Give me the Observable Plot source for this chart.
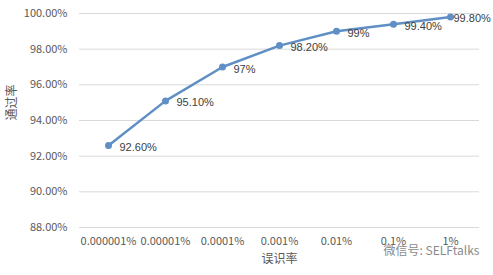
<!DOCTYPE html>
<html>
<head>
<meta charset="utf-8">
<script src="https://cdn.jsdelivr.net/npm/d3@7"></script>
<script src="https://cdn.jsdelivr.net/npm/@observablehq/plot@0.6"></script>
<style>
  html, body { margin: 0; padding: 0; background: #fff; }
  #chart svg { display: block; overflow: visible; }
</style>
</head>
<body>
<div id="chart"></div>
<script>
// False acceptance rate (categories) vs. pass rate (%)
const errorRates = ["0.000001%", "0.00001%", "0.0001%", "0.001%", "0.01%", "0.1%", "1%"];
const passRates = [92.6, 95.1, 97, 98.2, 99, 99.4, 99.8];
const valueLabels = ["92.60%", "95.10%", "97%", "98.20%", "99%", "99.40%", "99.80%"];
const yTicks = [88, 90, 92, 94, 96, 98, 100];
const xTitle = "误识率";
const yTitle = "通过率";
const watermark = "微信号: SELFtalks";

const data = errorRates.map((r, i) => ({rate: r, pass: passRates[i], label: valueLabels[i]}));

const font = "'Noto Sans CJK SC', 'Liberation Sans', sans-serif";
const numFont = "'Liberation Sans', 'Noto Sans CJK SC', sans-serif";
const lineColor = "#5f8fc4";

const chart = Plot.plot({
  width: 493,
  height: 275,
  marginTop: 13,
  marginBottom: 48,
  marginLeft: 79,
  marginRight: 14,
  style: {fontFamily: font, fontSize: "11px", color: "#595959", background: "#fff"},
  x: {type: "point", domain: errorRates, padding: 0.5, label: null},
  y: {domain: [88, 100], ticks: yTicks, label: null},
  marks: [
    Plot.gridY(yTicks, {stroke: "#d9d9d9", strokeOpacity: 1, strokeWidth: 1}),
    Plot.axisY(yTicks, {tickSize: 0, tickPadding: 12, tickFormat: d => d3.format(".2f")(d) + "%", fill: "#595959", fontSize: 11}),
    Plot.axisX({tickSize: 0, tickPadding: 10, fill: "#595959", fontSize: 11}),
    Plot.line(data, {x: "rate", y: "pass", stroke: lineColor, strokeWidth: 2.5}),
    Plot.dot(data, {x: "rate", y: "pass", r: 3.5, fill: lineColor}),
    // value labels; the last one is pulled in so it stays inside the chart
    Plot.text(data.slice(0, -1), {x: "rate", y: "pass", text: "label", textAnchor: "start", dx: 11, dy: 2, fill: "#404040", fontSize: 11, fontFamily: numFont}),
    Plot.text(data.slice(-1), {x: "rate", y: "pass", text: "label", textAnchor: "start", dx: 3, dy: 1, fill: "#404040", fontSize: 11, fontFamily: numFont}),
    Plot.text([xTitle], {frameAnchor: "bottom", dy: 35, fill: "#595959", fontSize: 12}),
    Plot.text([yTitle], {frameAnchor: "left", rotate: -90, dx: -67, fill: "#595959", fontSize: 12}),
    Plot.text([watermark], {frameAnchor: "bottom-right", textAnchor: "end", dx: 0, dy: 27, fill: "#8a8a8a", fontSize: 12})
  ]
});

document.getElementById("chart").appendChild(chart);
</script>
</body>
</html>
